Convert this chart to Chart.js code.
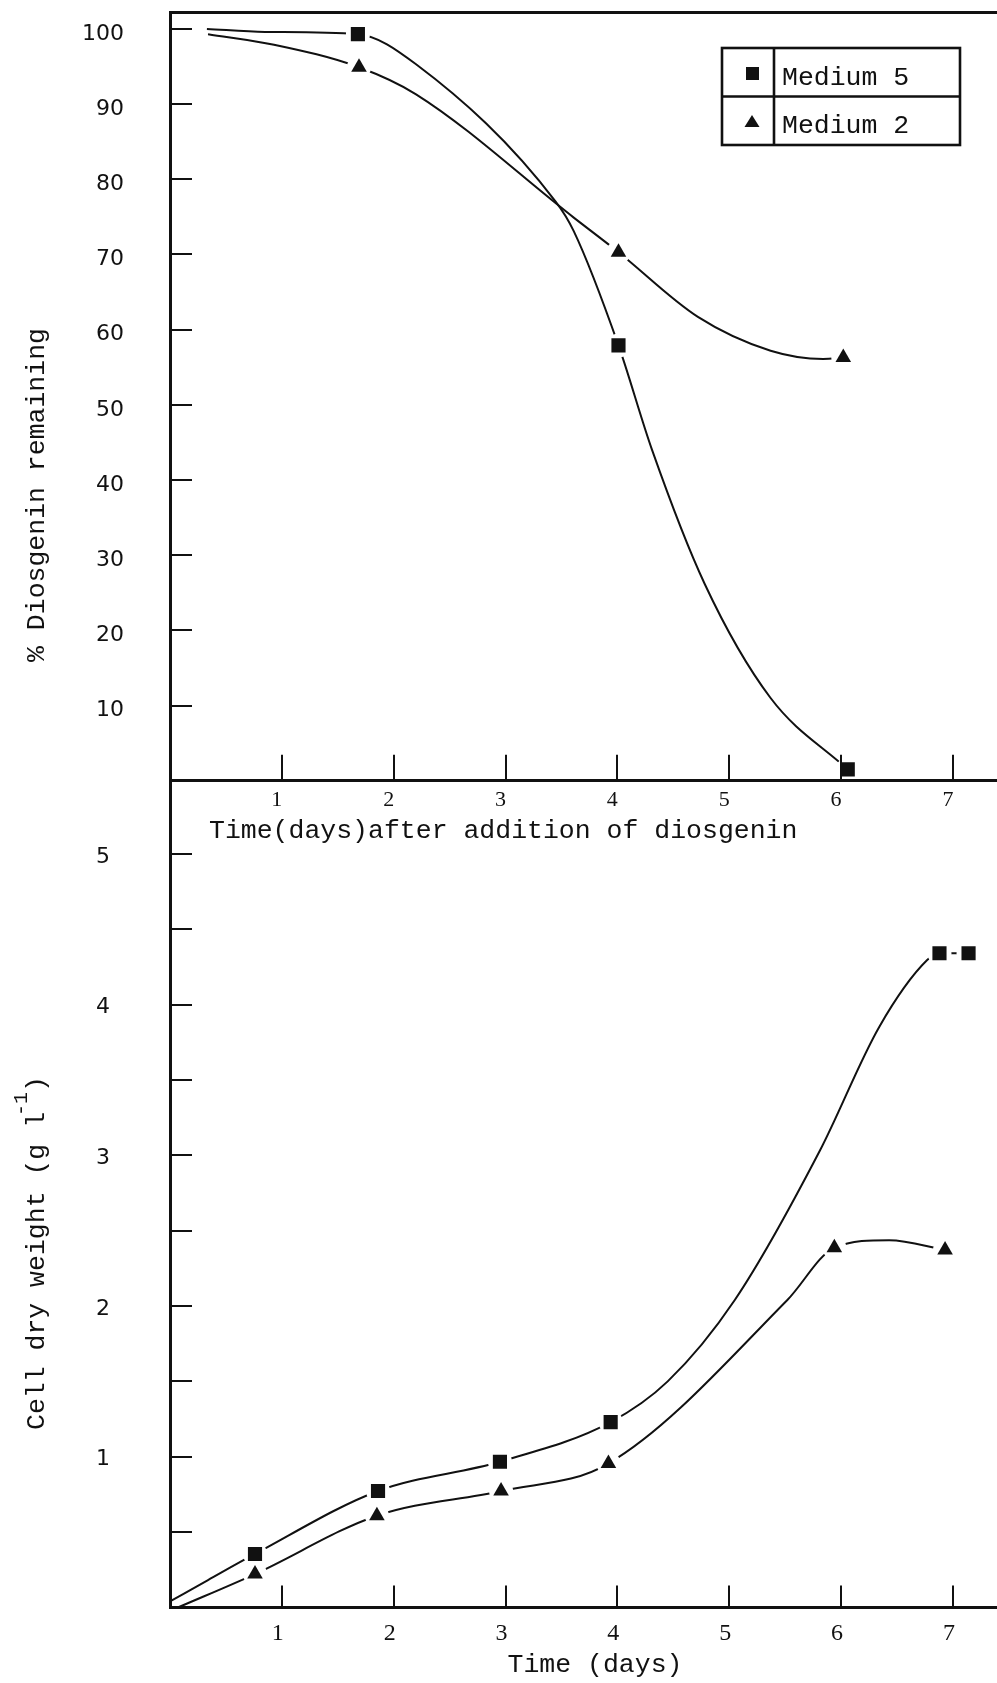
<!DOCTYPE html>
<html>
<head>
<meta charset="utf-8">
<script src="https://cdn.jsdelivr.net/npm/chart.js@4.4.1/dist/chart.umd.min.js"></script>
<style>
  html, body { margin: 0; padding: 0; background: #fff; overflow: hidden; width: 997px; height: 1683px; }
  canvas { position: absolute; left: 0; }
  #topChart { top: 0; }
  #bottomChart { top: 740px; }
</style>
</head>
<body>
<canvas id="topChart" width="1032" height="860"></canvas>
<canvas id="bottomChart" width="1032" height="943"></canvas>
<script>
// upper panel: % diosgenin remaining (markers)
const topDays5 = [1.68, 4.01, 6.06];
const topPct5 = [99.3, 57.9, 1.5];
const topDays2 = [1.69, 4.01, 6.02];
const topPct2 = [94.9, 70.3, 56.3];
// upper panel: points
const topCurveDays5 = [0.33, 0.85, 1.68, 2.2, 3.45, 3.61, 4.01, 4.31, 4.78, 5.37, 6.06];
const topCurvePct5 = [100, 99.6, 99.3, 95.3, 77.0, 73.1, 57.9, 44.0, 26.2, 11.0, 1.5];
const topCurveDays2 = [0.34, 0.93, 1.69, 2.2, 3.61, 4.01, 4.72, 5.37, 5.84, 6.02];
const topCurvePct2 = [99.3, 97.9, 94.9, 91.3, 74.9, 70.3, 61.7, 57.2, 56.1, 56.3];

// lower panel: cell dry weight g/l (markers)
const botDays5 = [0.76, 1.86, 2.95, 3.94, 6.88, 7.14];
const botWt5 = [0.355, 0.773, 0.967, 1.23, 4.34, 4.34];
const botDays2 = [0.76, 1.85, 2.96, 3.92, 5.94, 6.93];
const botWt2 = [0.222, 0.609, 0.773, 0.955, 2.386, 2.371];
// lower panel: points
const botCurveDays5 = [0, 0.34, 0.76, 1.86, 2.95, 3.94, 4.45, 5.05, 5.81, 6.34, 6.77, 6.88, 7.14];
const botCurveWt5 = [0.04, 0.182, 0.355, 0.773, 0.967, 1.23, 1.5, 2.04, 3.03, 3.85, 4.295, 4.34, 4.34];
const botCurveDays2 = [0.07, 0.76, 1.85, 2.96, 3.92, 5.52, 5.94, 6.43, 6.93];
const botCurveWt2 = [0, 0.222, 0.609, 0.773, 0.955, 2.04, 2.386, 2.437, 2.371];

const seriesNames = ['Medium 5', 'Medium 2'];
const dayTicks = [1, 2, 3, 4, 5, 6, 7];

const ink = '#111';
const mono = '"Liberation Mono", "Courier New", monospace';

function pts(xs, ys) {
  return xs.map((x, i) => ({ x: x, y: ys[i] }));
}

function panelDatasets(c5x, c5y, c2x, c2y, m5x, m5y, m2x, m2y) {
  const common = { xAxisID: 'x', yAxisID: 'y' };
  return [
    { ...common, label: seriesNames[0], data: pts(m5x, m5y), showLine: false, pointStyle: 'rect',
      pointRadius: 10, pointBackgroundColor: ink, pointBorderWidth: 0, order: 0 },
    { ...common, label: seriesNames[1], data: pts(m2x, m2y), showLine: false, pointStyle: 'triangle',
      pointRadius: 9, pointBackgroundColor: ink, pointBorderWidth: 0, order: 0 },
    // white discs so the curves stop short of each marker, like the drawing
    { ...common, label: 'gap', data: pts(m5x.concat(m2x), m5y.concat(m2y)), showLine: false,
      pointStyle: 'circle', pointRadius: 12, pointBackgroundColor: '#fff', pointBorderWidth: 0, order: 1 },
    { ...common, label: seriesNames[0] + ' curve', data: pts(c5x, c5y), showLine: true, pointRadius: 0,
      borderColor: ink, borderWidth: 2, cubicInterpolationMode: 'monotone', order: 2 },
    { ...common, label: seriesNames[1] + ' curve', data: pts(c2x, c2y), showLine: true, pointRadius: 0,
      borderColor: ink, borderWidth: 2, cubicInterpolationMode: 'monotone', order: 2 }
  ];
}

function textPlugin(items) {
  return {
    id: 'axisText',
    afterDraw(chart) {
      const ctx = chart.ctx;
      items.forEach(t => {
        ctx.save();
        ctx.translate(t.x, t.y);
        ctx.rotate(t.angle || 0);
        ctx.fillStyle = ink;
        ctx.font = t.font;
        ctx.textAlign = t.align;
        ctx.textBaseline = t.baseline;
        ctx.fillText(t.text, 0, 0);
        if (t.sup) {
          let w = ctx.measureText(t.text).width - 4;
          ctx.font = t.supFont;
          ctx.fillText(t.sup, w, -15);
          w += ctx.measureText(t.sup).width;
          ctx.font = t.font;
          ctx.fillText(t.after, w, 0);
        }
        ctx.restore();
      });
    }
  };
}

const legendBox = {
  id: 'legendBox',
  afterDraw(chart) {
    const ctx = chart.ctx;
    const x = 722, y = 48, w = 238, h = 97, split = 52;
    ctx.save();
    ctx.strokeStyle = ink;
    ctx.lineWidth = 2.6;
    ctx.strokeRect(x, y, w, h);
    ctx.beginPath();
    ctx.moveTo(x + split, y);
    ctx.lineTo(x + split, y + h);
    ctx.moveTo(x, y + h / 2);
    ctx.lineTo(x + w, y + h / 2);
    ctx.stroke();
    ctx.fillStyle = ink;
    // square
    ctx.fillRect(x + 24, y + 19, 13, 13);
    // triangle
    ctx.beginPath();
    ctx.moveTo(x + 30, y + 67);
    ctx.lineTo(x + 37.5, y + 79);
    ctx.lineTo(x + 22.5, y + 79);
    ctx.closePath();
    ctx.fill();
    ctx.font = '26.5px ' + mono;
    ctx.textAlign = 'left';
    ctx.textBaseline = 'alphabetic';
    ctx.fillText(chart.data.datasets[0].label, x + 60, y + 37);
    ctx.fillText(chart.data.datasets[1].label, x + 60, y + 85);
    ctx.restore();
  }
};

function xScale(max, tickLen, pad, fontSize, labelOffset, height) {
  return {
    type: 'linear', position: 'bottom', min: 0, max: max,
    afterFit: s => { s.height = height; s.paddingLeft = 0; s.paddingRight = 0; },
    border: { display: true, color: ink, width: 3, z: 1 },
    grid: { drawOnChartArea: false, drawTicks: true, tickLength: tickLen, color: ink, lineWidth: 2, z: 1 },
    ticks: {
      stepSize: 1, includeBounds: false, autoSkip: false, maxRotation: 0,
      padding: pad, labelOffset: labelOffset, color: ink,
      font: { family: '"Liberation Serif", serif', size: fontSize },
      callback: v => dayTicks.includes(v) ? String(v) : ''
    }
  };
}

function yScale(max, step, pad, fontSize, labelOffset, showLabel) {
  return {
    type: 'linear', position: 'left', min: 0, max: max,
    afterFit: s => { s.width = 170; s.paddingTop = 0; s.paddingBottom = 0; },
    border: { display: true, color: ink, width: 3, z: 1 },
    grid: { drawOnChartArea: false, drawTicks: true, tickLength: -22, color: ink, lineWidth: 2, z: 1 },
    ticks: {
      stepSize: step, includeBounds: false, autoSkip: false,
      padding: pad, labelOffset: labelOffset, color: ink,
      font: { family: '"DejaVu Sans", sans-serif', size: fontSize },
      callback: v => showLabel(v) ? String(v) : ''
    }
  };
}

const baseOptions = {
  responsive: false,
  animation: false,
  events: [],
  plugins: { legend: { display: false }, tooltip: { enabled: false } }
};

// upper chart
new Chart(document.getElementById('topChart'), {
  type: 'scatter',
  data: {
    datasets: panelDatasets(topCurveDays5, topCurvePct5, topCurveDays2, topCurvePct2,
                            topDays5, topPct5, topDays2, topPct2)
  },
  options: {
    ...baseOptions,
    layout: { padding: 0 },
    scales: {
      x: xScale(7.6, -26, 32.1, 22, -5, 79.3),
      xTop: {
        type: 'linear', position: 'top', min: 0, max: 7.6,
        afterFit: s => { s.height = 9; s.paddingLeft = 0; s.paddingRight = 0; },
        border: { display: true, color: ink, width: 3, z: 1 },
        grid: { display: false },
        ticks: { display: false }
      },
      y: yScale(102.25, 10, 68, 22, 5, v => v > 0 && v % 10 === 0)
    }
  },
  plugins: [legendBox, textPlugin([
    { text: '% Diosgenin remaining', x: 37, y: 495, angle: -Math.PI / 2,
      font: '26.5px ' + mono, align: 'center', baseline: 'middle' },
    { text: 'Time(days)after addition of diosgenin', x: 209, y: 838,
      font: '26.5px ' + mono, align: 'left', baseline: 'alphabetic' }
  ])]
});

// lower chart
new Chart(document.getElementById('bottomChart'), {
  type: 'scatter',
  data: {
    datasets: panelDatasets(botCurveDays5, botCurveWt5, botCurveDays2, botCurveWt2,
                            botDays5, botWt5, botDays2, botWt2)
  },
  options: {
    ...baseOptions,
    layout: { padding: { top: 40.7, left: 0, right: 0, bottom: 0 } },
    scales: {
      x: {
        ...xScale(7.6, -22, 34.1, 24, -4, 75.5),
        title: {
          display: true, text: 'Time (days)', color: ink,
          font: { family: mono, size: 26.5 }, padding: { top: 0, bottom: 2 }
        }
      },
      y: yScale(5.485, 0.5, 82, 22, 3, v => v > 0 && Number.isInteger(v))
    }
  },
  plugins: [textPlugin([
    { text: 'Cell dry weight (g l', sup: '-1', after: ')', x: 37, y: 690, angle: -Math.PI / 2,
      font: '26.5px ' + mono, supFont: '20px ' + mono, align: 'left', baseline: 'middle' }
  ])]
});
</script>
</body>
</html>
